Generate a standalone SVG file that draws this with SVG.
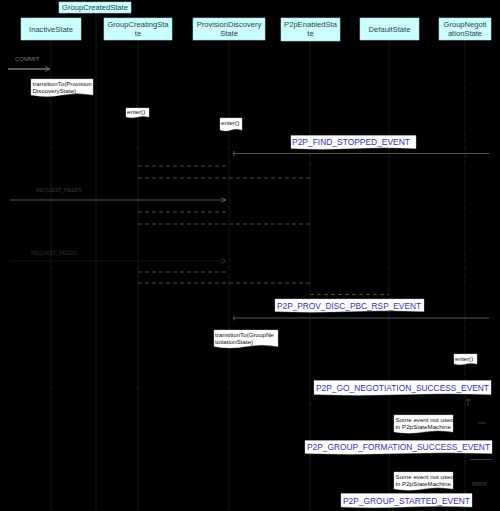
<svg xmlns="http://www.w3.org/2000/svg" width="500" height="511" viewBox="0 0 500 511">
<defs>
<style>
.hdr{fill:#ccffff;stroke:#9fdede;stroke-width:0.6}
.ht{font-family:"Liberation Sans",Arial,sans-serif;font-size:7.6px;fill:#24434b;text-anchor:middle}
.life{stroke:#1a1a1a;stroke-width:1;stroke-dasharray:6 1.5}
.note{fill:#ffffff;stroke:#cccccc;stroke-width:0.4}
.nt{font-family:"Liberation Sans",Arial,sans-serif;font-size:6.2px;fill:#111}
.ev{font-family:"Liberation Sans",Arial,sans-serif;font-size:8.4px;fill:#3030c8}
.msg{stroke:#555;stroke-width:1;fill:none}
.dash{stroke:#4a4a4a;stroke-width:1;stroke-dasharray:4 3;fill:none}
.lbl{font-family:"Liberation Sans",Arial,sans-serif;font-size:6px;fill:#3a3a3a}
</style>
<marker id="ah" markerWidth="6" markerHeight="6" refX="5" refY="3" orient="auto" markerUnits="userSpaceOnUse">
<path d="M0,0.5 L5,3 L0,5.5" fill="none" stroke="#777" stroke-width="0.8"/>
</marker>
<marker id="ahd" markerWidth="6" markerHeight="6" refX="5" refY="3" orient="auto" markerUnits="userSpaceOnUse">
<path d="M0,0.5 L5,3 L0,5.5" fill="none" stroke="#333" stroke-width="0.8"/>
</marker>
</defs>
<rect x="0" y="0" width="500" height="511" fill="#000"/>

<g id="lifelines">
<line class="life" x1="51" y1="40" x2="51" y2="511"/>
<line class="life" x1="96" y1="13" x2="96" y2="511"/>
<line class="life" x1="138" y1="40" x2="138" y2="511"/>
<line class="life" x1="229" y1="40" x2="229" y2="511"/>
<line class="life" x1="310" y1="41" x2="310" y2="511"/>
<line class="life" x1="389" y1="40" x2="389" y2="511"/>
<line class="life" x1="465" y1="40" x2="465" y2="511"/>
</g>

<g id="GroupCreatedState"><rect class="hdr" x="59" y="2" width="72" height="11"/><text class="ht" x="95" y="10.2">GroupCreatedState</text></g>
<g id="InactiveState"><rect class="hdr" x="21" y="18" width="60" height="22"/><text class="ht" x="51" y="31.5">InactiveState</text></g>
<g id="GroupCreatingState"><rect class="hdr" x="104" y="18" width="68" height="22"/><text class="ht" x="138" y="27">GroupCreatingSta</text><text class="ht" x="138" y="36">te</text></g>
<g id="ProvisionDiscoveryState"><rect class="hdr" x="193" y="18" width="72" height="22"/><text class="ht" x="229" y="27">ProvisionDiscovery</text><text class="ht" x="229" y="36">State</text></g>
<g id="P2pEnabledState"><rect class="hdr" x="281" y="18" width="59" height="23"/><text class="ht" x="310.5" y="27">P2pEnabledSta</text><text class="ht" x="310.5" y="36">te</text></g>
<g id="DefaultState"><rect class="hdr" x="360" y="18" width="59" height="22"/><text class="ht" x="389.5" y="31.5">DefaultState</text></g>
<g id="GroupNegotiationState"><rect class="hdr" x="439" y="18" width="52" height="22"/><text class="ht" x="465" y="27">GroupNegoti</text><text class="ht" x="465" y="36">ationState</text></g>

<g id="connectors">
<line x1="8" y1="69" x2="50" y2="69" stroke="#b0b0b0" stroke-width="1" marker-end="url(#ah)"/>
<line class="msg" x1="233" y1="153.5" x2="489" y2="153.5"/>
<line class="msg" x1="234" y1="151" x2="234" y2="156"/>
<line class="dash" x1="138" y1="166" x2="229" y2="166"/>
<line class="dash" x1="138" y1="178" x2="310" y2="178"/>
<line class="msg" x1="10" y1="200" x2="226" y2="200" marker-end="url(#ah)"/>
<line class="dash" x1="138" y1="212" x2="229" y2="212"/>
<line class="dash" x1="138" y1="224" x2="310" y2="224"/>
<line x1="10" y1="261" x2="226" y2="261" stroke="#141414" stroke-width="1" marker-end="url(#ahd)"/>
<line class="dash" x1="138" y1="272" x2="229" y2="272"/>
<line class="dash" x1="138" y1="283" x2="310" y2="283"/>
<line class="dash" x1="310" y1="294.5" x2="389" y2="294.5"/>
<line class="msg" x1="233" y1="318" x2="489" y2="318"/>
<line class="msg" x1="234" y1="315.5" x2="234" y2="320.5"/>
<line x1="465" y1="400" x2="471" y2="400" stroke="#3a3a3a"/>
<line x1="468" y1="398" x2="468" y2="406" stroke="#3a3a3a"/>
<line x1="478" y1="423" x2="486" y2="423" stroke="#3a3a3a"/>
<line x1="470" y1="459.5" x2="492" y2="459.5" stroke="#3a3a3a"/>
<line x1="472" y1="483" x2="487" y2="483" stroke="#3a3a3a"/>
<line x1="472" y1="485" x2="487" y2="485" stroke="#2a2a2a"/>
</g>

<g id="labels">
<text class="lbl" x="15" y="61" style="fill:#7a7a7a">COMMIT</text>
<text class="lbl" x="36" y="192" textLength="46" lengthAdjust="spacingAndGlyphs">REQUEST_PEERS</text>
<text class="lbl" x="31" y="255" textLength="46" lengthAdjust="spacingAndGlyphs" style="fill:#2e2e2e">REQUEST_PEERS</text>
</g>

<g id="note-transition1">
<path class="note" d="M31,79 H93 V95 Q77,92 62,95 T31,95 Z"/>
<text class="nt" x="32.5" y="86">transitionTo(Provision</text>
<text class="nt" x="32.5" y="92.5">DiscoveryState)</text>
</g>
<g id="note-enter1">
<path class="note" d="M126,108 H149 V117 Q143,115.5 137.5,117 T126,117 Z"/>
<text class="nt" x="127" y="114">enter()</text>
</g>
<g id="note-enter2">
<path class="note" d="M220,118 H242 V130 Q236,128 231,130 T220,130 Z"/>
<text class="nt" x="221" y="125">enter()</text>
</g>
<g id="ev-find-stopped">
<path class="note" d="M291,135.5 H416 V148.5 Q385,147 353.5,148.5 T291,148.5 Z"/>
<text class="ev" x="292" y="145" textLength="118" lengthAdjust="spacingAndGlyphs">P2P_FIND_STOPPED_EVENT</text>
</g>
<g id="ev-prov-disc">
<path class="note" d="M275,299 H424 V311.5 Q387,310 349.5,311.5 T275,311.5 Z"/>
<text class="ev" x="277" y="308.5" textLength="144" lengthAdjust="spacingAndGlyphs">P2P_PROV_DISC_PBC_RSP_EVENT</text>
</g>
<g id="note-transition2">
<path class="note" d="M214,330 H278 V346.5 Q262,343.5 246,346.5 T214,346.5 Z"/>
<text class="nt" x="215" y="337">transitionTo(GroupNe</text>
<text class="nt" x="215" y="343.5">totiationState)</text>
</g>
<g id="note-enter3">
<path class="note" d="M454,354 H477 V364 Q471,362.5 465.5,364 T454,364 Z"/>
<text class="nt" x="455" y="360.5">enter()</text>
</g>
<g id="ev-go-neg">
<path class="note" d="M314,380.5 H491 V394.5 Q447,393 402.5,394.5 T314,394.5 Z"/>
<text class="ev" x="316" y="390.5" textLength="173" lengthAdjust="spacingAndGlyphs">P2P_GO_NEGOTIATION_SUCCESS_EVENT</text>
</g>
<g id="note-unused1">
<path class="note" d="M394,415 H453 V432 Q438,429.5 423.5,432 T394,432 Z"/>
<text class="nt" x="395.5" y="421.5">Some event not used</text>
<text class="nt" x="395.5" y="428.5">in P2pStateMachine</text>
</g>
<g id="ev-group-formation">
<path class="note" d="M305,440.5 H492 V453.5 Q445,452 398.5,453.5 T305,453.5 Z"/>
<text class="ev" x="307" y="450" textLength="183" lengthAdjust="spacingAndGlyphs">P2P_GROUP_FORMATION_SUCCESS_EVENT</text>
</g>
<g id="note-unused2">
<path class="note" d="M394,472 H453 V489 Q438,486.5 423.5,489 T394,489 Z"/>
<text class="nt" x="395.5" y="478.5">Some event not used</text>
<text class="nt" x="395.5" y="485.5">in P2pStateMachine</text>
</g>
<g id="ev-group-started">
<path class="note" d="M341,493.5 H472 V507 Q439,505.5 406.5,507 T341,507 Z"/>
<text class="ev" x="343" y="503.5" textLength="127" lengthAdjust="spacingAndGlyphs">P2P_GROUP_STARTED_EVENT</text>
</g>
</svg>
